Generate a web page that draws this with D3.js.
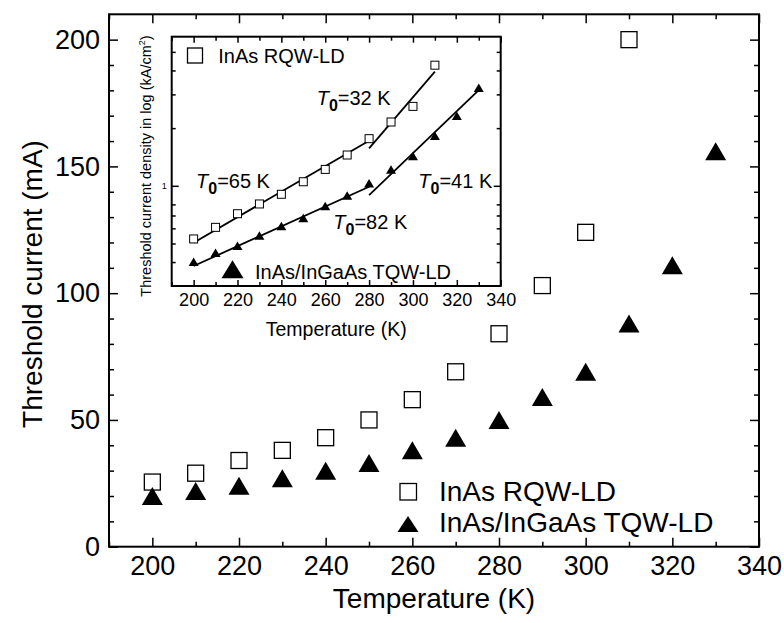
<!DOCTYPE html>
<html><head><meta charset="utf-8">
<script src="https://cdn.jsdelivr.net/npm/d3@7"></script>
<style>body{margin:0;background:#fff}svg{display:block}text{font-family:"Liberation Sans",Arial,Helvetica,sans-serif;fill:#000}</style>
</head><body><svg id="c" width="784" height="623"></svg>
<script>
// ---------- data ----------
const rqwTemps = [200,210,220,230,240,250,260,270,280,290,300,310];
const rqwCurrent = [25.5,29,34,38,43,50,58,69,84,103,124,200];
const tqwTemps = [200,210,220,230,240,250,260,270,280,290,300,310,320,330];
const tqwCurrent = [20,22,24,27,30,33,38,43,50,59,69,88,111,156];
const insetRqwDensity = [0.528,0.607,0.715,0.804,0.903,1.05,1.218,1.448,1.762,2.153,2.597,4.261];
const insetTqwDensity = [0.402,0.448,0.487,0.55,0.617,0.679,0.785,0.889,1.03,1.218,1.431,1.826,2.322,3.251];
const fitTemps = [[200,280],[280,310],[200,280],[280,330]];
const fitDensity = [[0.505,1.72],[1.569,3.94],[0.3815,0.989],[0.895,3.16]];
const fitLabels = ["=65 K","=32 K","=82 K","=41 K"];
const xMajor = [200,220,240,260,280,300,320,340];
const xMinor = [190,210,230,250,270,290,310,330];
const yMajor = [0,50,100,150,200];
const yMinor = [10,20,30,40,60,70,80,90,110,120,130,140,160,170,180,190];
const insetYMajor = [1];
const insetYMinor = [0.4,0.5,0.6,0.7,0.8,2,3,4,5];
const legendNames = ["InAs RQW-LD","InAs/InGaAs TQW-LD"];
const mainXTitle = "Temperature (K)";
const mainYTitle = "Threshold current (mA)";

const svg = d3.select("#c");
const x = d3.scaleLinear([190,340],[109,759]);
const y = d3.scaleLinear([0,210],[546.7,14.3]);
const xi = d3.scaleLinear([190,340],[171.7,500.7]);
const yi = d3.scaleLog([0.3,6],[286,36.7]);

function tri(cx,cy,w,h){return d3.line()([[cx,cy-h/2],[cx+w/2,cy+h/2],[cx-w/2,cy+h/2]])+"Z";}
function styleAxis(g,fs){g.select(".domain").remove();g.selectAll("line").attr("stroke","#000").attr("stroke-width",1.5);
  g.selectAll("text").attr("font-size",fs).attr("fill","#000").attr("font-family",null);}

// ---------- main axes ----------
const W=x.range(), H=y.range();
svg.append("rect").attr("x",W[0]).attr("y",H[1]).attr("width",W[1]-W[0]).attr("height",H[0]-H[1]).attr("fill","#fff");
svg.append("g").attr("transform",`translate(0,${H[0]})`).call(d3.axisBottom(x).tickValues(xMajor).tickSize(-9).tickPadding(9.5)).call(styleAxis,27);
svg.append("g").attr("transform",`translate(0,${H[0]})`).call(d3.axisBottom(x).tickValues(xMinor).tickSize(-5).tickFormat("")).call(styleAxis,27);
svg.append("g").attr("transform",`translate(0,${H[1]})`).call(d3.axisTop(x).tickValues(xMajor).tickSize(-9).tickFormat("")).call(styleAxis,27);
svg.append("g").attr("transform",`translate(0,${H[1]})`).call(d3.axisTop(x).tickValues(xMinor).tickSize(-5).tickFormat("")).call(styleAxis,27);
svg.append("g").attr("transform",`translate(${W[0]},0)`).call(d3.axisLeft(y).tickValues(yMajor).tickSize(-9).tickPadding(9)).call(styleAxis,27);
svg.append("g").attr("transform",`translate(${W[0]},0)`).call(d3.axisLeft(y).tickValues(yMinor).tickSize(-5).tickFormat("")).call(styleAxis,27);
svg.append("g").attr("transform",`translate(${W[1]},0)`).call(d3.axisRight(y).tickValues(yMajor).tickSize(-9).tickFormat("")).call(styleAxis,27);
svg.append("g").attr("transform",`translate(${W[1]},0)`).call(d3.axisRight(y).tickValues(yMinor).tickSize(-5).tickFormat("")).call(styleAxis,27);
svg.append("rect").attr("x",W[0]).attr("y",H[1]).attr("width",W[1]-W[0]).attr("height",H[0]-H[1]).attr("fill","none").attr("stroke","#000").attr("stroke-width",2);

svg.append("text").attr("x",(W[0]+W[1])/2).attr("y",608).attr("text-anchor","middle").attr("font-size",28).text(mainXTitle);
svg.append("text").attr("transform","translate(42,284) rotate(-90)").attr("text-anchor","middle").attr("font-size",28).text(mainYTitle);

// main markers
svg.append("g").selectAll("rect").data(rqwTemps).join("rect")
  .attr("x",(d,i)=>x(d)-8).attr("y",(d,i)=>y(rqwCurrent[i])-8).attr("width",16).attr("height",16)
  .attr("fill","#fff").attr("stroke","#000").attr("stroke-width",1.3);
svg.append("g").selectAll("path").data(tqwTemps).join("path")
  .attr("d",(d,i)=>tri(x(d),y(tqwCurrent[i]),21,18)).attr("fill","#000");

// main legend
svg.append("rect").attr("x",400).attr("y",483.5).attr("width",16.5).attr("height",16.5).attr("fill","#fff").attr("stroke","#000").attr("stroke-width",1.3);
svg.append("text").attr("x",439).attr("y",500.7).attr("font-size",28).text(legendNames[0]);
svg.append("path").attr("d",tri(408,524,21,16)).attr("fill","#000");
svg.append("text").attr("x",439).attr("y",531.7).attr("font-size",28).text(legendNames[1]);

// ---------- inset ----------
const IW=xi.range(), IH=yi.range();
const ins = svg.append("g");
ins.append("rect").attr("x",IW[0]).attr("y",IH[1]).attr("width",IW[1]-IW[0]).attr("height",IH[0]-IH[1]).attr("fill","#fff");
ins.append("g").attr("transform",`translate(0,${IH[0]})`).call(d3.axisBottom(xi).tickValues(xMajor).tickSize(-6).tickPadding(7.5)).call(styleAxis,18);
ins.append("g").attr("transform",`translate(0,${IH[0]})`).call(d3.axisBottom(xi).tickValues(xMinor).tickSize(-4).tickFormat("")).call(styleAxis,18);
ins.append("g").attr("transform",`translate(0,${IH[1]})`).call(d3.axisTop(xi).tickValues(xMajor).tickSize(-6).tickFormat("")).call(styleAxis,18);
ins.append("g").attr("transform",`translate(0,${IH[1]})`).call(d3.axisTop(xi).tickValues(xMinor).tickSize(-4).tickFormat("")).call(styleAxis,18);
ins.append("g").attr("transform",`translate(${IW[0]},0)`).call(d3.axisLeft(yi).tickValues(insetYMajor).tickSize(-7).tickPadding(5).tickFormat(d3.format("d"))).call(styleAxis,9);
ins.append("g").attr("transform",`translate(${IW[0]},0)`).call(d3.axisLeft(yi).tickValues(insetYMinor).tickSize(-4).tickFormat("")).call(styleAxis,9);
ins.append("g").attr("transform",`translate(${IW[1]},0)`).call(d3.axisRight(yi).tickValues(insetYMajor).tickSize(-7).tickFormat("")).call(styleAxis,9);
ins.append("g").attr("transform",`translate(${IW[1]},0)`).call(d3.axisRight(yi).tickValues(insetYMinor).tickSize(-4).tickFormat("")).call(styleAxis,9);
ins.append("rect").attr("x",IW[0]).attr("y",IH[1]).attr("width",IW[1]-IW[0]).attr("height",IH[0]-IH[1]).attr("fill","none").attr("stroke","#000").attr("stroke-width",2);

ins.append("text").attr("x",(IW[0]+IW[1])/2).attr("y",336).attr("text-anchor","middle").attr("font-size",19.5).text(mainXTitle);
const yt = ins.append("text").attr("transform","translate(151,166) rotate(-90)").attr("text-anchor","middle").attr("font-size",14.5);
yt.append("tspan").text("Threshold current density in log (kA/cm");
yt.append("tspan").attr("font-size",9).attr("dy",-6).text("2");
yt.append("tspan").attr("dy",6).text(")");

// fit lines
ins.append("g").selectAll("line").data(fitTemps).join("line")
  .attr("x1",d=>xi(d[0])).attr("x2",d=>xi(d[1]))
  .attr("y1",(d,i)=>yi(fitDensity[i][0])).attr("y2",(d,i)=>yi(fitDensity[i][1]))
  .attr("stroke","#000").attr("stroke-width",1.8);

// inset markers
ins.append("g").selectAll("rect").data(rqwTemps).join("rect")
  .attr("x",d=>xi(d)-4).attr("y",(d,i)=>yi(insetRqwDensity[i])-4).attr("width",8).attr("height",8)
  .attr("fill","#fff").attr("stroke","#000").attr("stroke-width",1);
ins.append("g").selectAll("path").data(tqwTemps).join("path")
  .attr("d",(d,i)=>tri(xi(d),yi(insetTqwDensity[i]),10,8.5)).attr("fill","#000");

// inset legend
ins.append("rect").attr("x",187.5).attr("y",48).attr("width",15).attr("height",15).attr("fill","#fff").attr("stroke","#000").attr("stroke-width",1.3);
ins.append("text").attr("x",218.3).attr("y",62.7).attr("font-size",20).text(legendNames[0]);
ins.append("path").attr("d",tri(232.5,269.2,22,18)).attr("fill","#000");
ins.append("text").attr("x",255).attr("y",279.3).attr("font-size",20).text(legendNames[1]);

// T0 labels
const labPos = [[196,188.3],[316.7,105],[333.3,229.3],[418.3,188.3]];
labPos.forEach((p,i)=>{
  const t = ins.append("text").attr("x",p[0]).attr("y",p[1]).attr("font-size",20);
  t.append("tspan").attr("font-style","italic").text("T");
  t.append("tspan").attr("font-weight","bold").attr("font-size",16).attr("dy",6).text("0");
  t.append("tspan").attr("dy",-6).text(fitLabels[i]);
});
</script></body></html>
